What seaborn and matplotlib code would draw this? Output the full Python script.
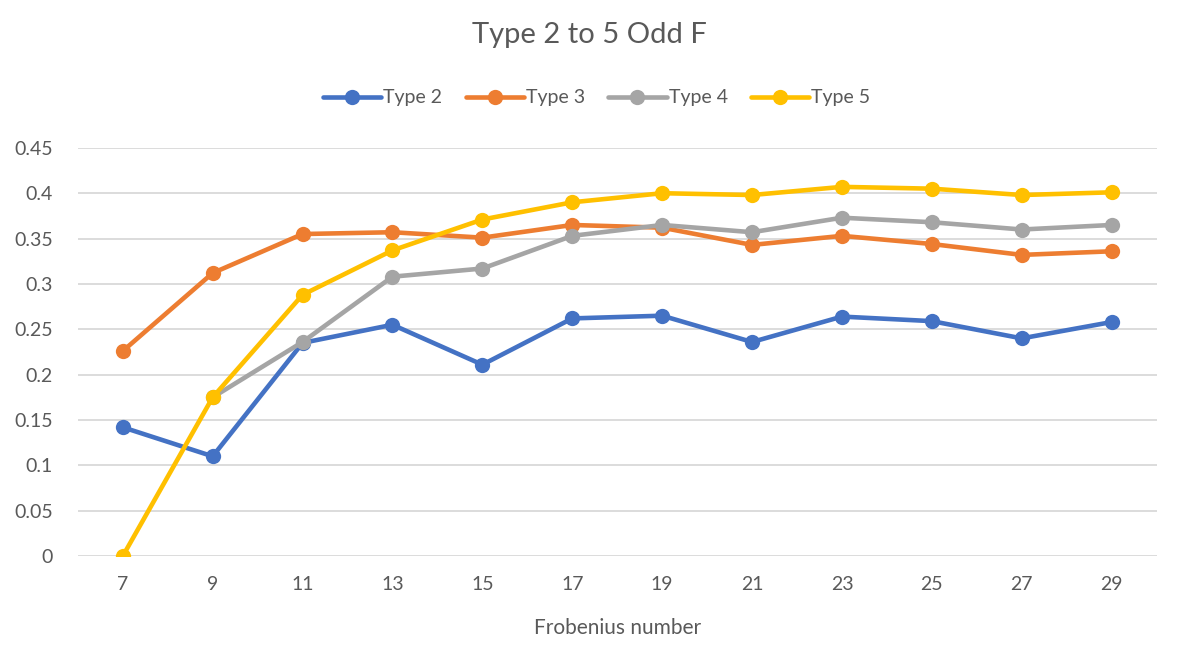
import pandas as pd
import numpy as np
import seaborn as sns
import matplotlib.pyplot as plt

# Frobenius numbers (odd)
frob = [7, 9, 11, 13, 15, 17, 19, 21, 23, 25, 27, 29]

type2 = [0.142, 0.110, 0.235, 0.255, 0.211, 0.262, 0.265, 0.236, 0.264, 0.259, 0.240, 0.258]
type3 = [0.226, 0.312, 0.355, 0.357, 0.351, 0.365, 0.362, 0.343, 0.353, 0.344, 0.332, 0.336]
type4 = [np.nan, 0.175, 0.236, 0.308, 0.317, 0.353, 0.365, 0.357, 0.373, 0.368, 0.360, 0.365]
type5 = [0.000, 0.175, 0.288, 0.337, 0.371, 0.390, 0.400, 0.398, 0.407, 0.405, 0.398, 0.401]

series_names = ["Type 2", "Type 3", "Type 4", "Type 5"]
colors = ["#4472C4", "#ED7D31", "#A5A5A5", "#FFC000"]

rows = []
for name, vals in zip(series_names, [type2, type3, type4, type5]):
    for f, v in zip(frob, vals):
        rows.append({"Frobenius number": f, "value": v, "series": name})
df = pd.DataFrame(rows).dropna()

sns.set_style("white")
plt.rcParams['font.family'] = ['Lato', 'DejaVu Sans']
text_col = "#595959"

fig = plt.figure(figsize=(11.79, 6.66), dpi=100)
ax = fig.add_axes([0.066, 0.165, 0.915, 0.613])

sns.lineplot(data=df, x="Frobenius number", y="value", hue="series",
             palette=colors, hue_order=series_names, marker="o",
             markersize=11, markeredgewidth=0, linewidth=3.3, ax=ax)

ax.set_xlim(6, 30)
ax.set_ylim(0, 0.45)
ax.set_xticks(frob)
ax.set_xticklabels([str(f) for f in frob])
yt = np.arange(0, 0.46, 0.05)
ax.set_yticks(yt)
ax.set_yticklabels(["0" if i == 0 else f"{v:g}" for i, v in enumerate(yt)])
ax.grid(axis="y", color="#D9D9D9", linewidth=1.3)
ax.set_axisbelow(True)
for s in ax.spines.values():
    s.set_visible(False)
ax.tick_params(axis="both", length=0, labelsize=14, colors=text_col, pad=14)
ax.tick_params(axis="y", pad=18)

ax.set_xlabel("Frobenius number", fontsize=15, color=text_col, labelpad=18)
ax.set_ylabel("")
fig.suptitle("Type 2 to 5 Odd F", fontsize=21, color=text_col, y=0.967)

handles, labels = ax.get_legend_handles_labels()
ax.legend(handles, labels, loc="center", bbox_to_anchor=(0.506, 0.853),
          bbox_transform=fig.transFigure, ncol=4, frameon=False,
          fontsize=14, handlelength=3.0, handletextpad=0.1, columnspacing=1.2,
          labelcolor=text_col)

fig.savefig("out.png", dpi=100)
